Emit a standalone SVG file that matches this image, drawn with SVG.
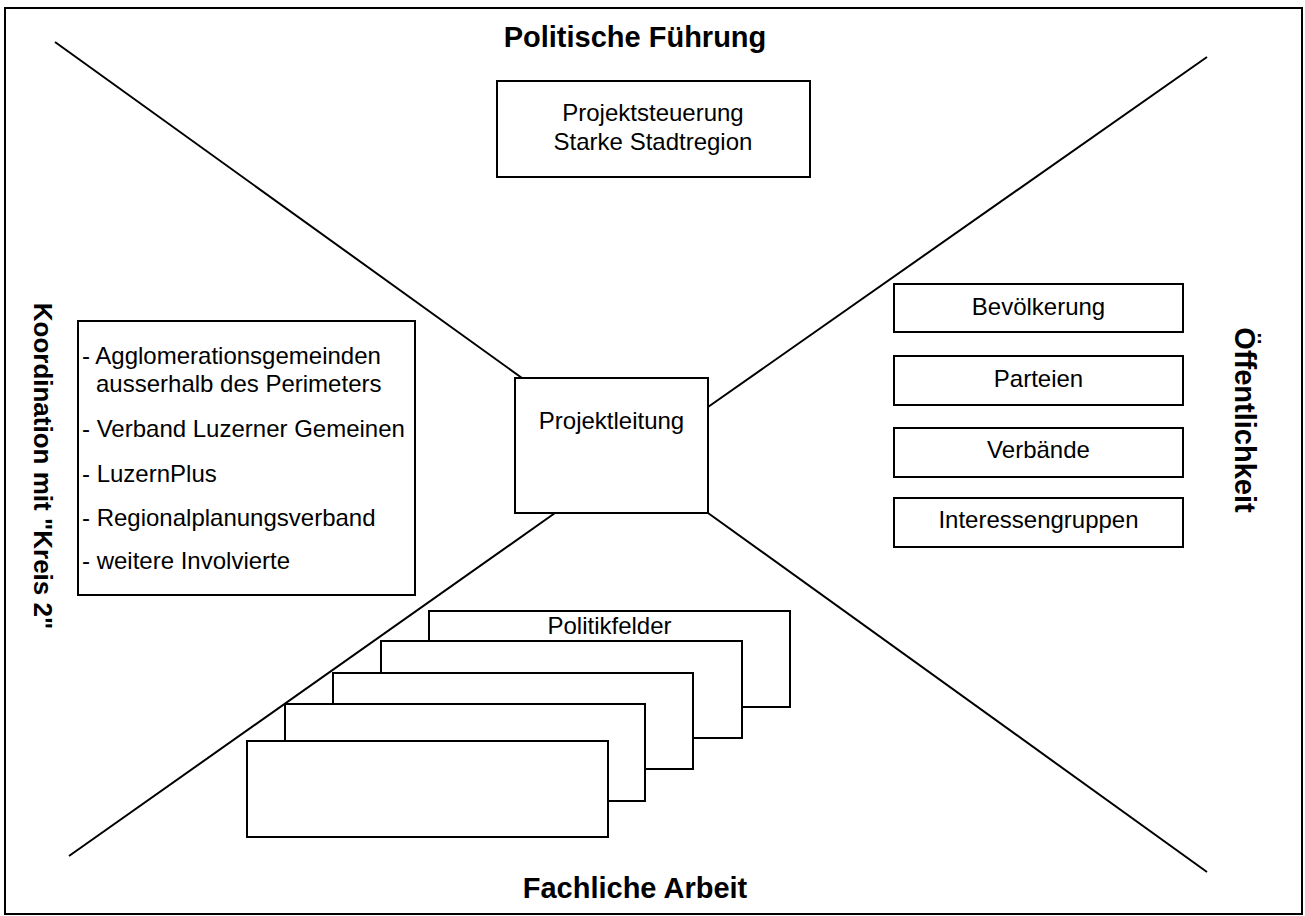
<svg xmlns="http://www.w3.org/2000/svg" width="1305" height="916" viewBox="0 0 1305 916">
<style>
.box{fill:#fff;stroke:#000;stroke-width:2}
.ln{stroke:#000;stroke-width:2;fill:none}
.t{font-family:"Liberation Sans",Arial,sans-serif;font-size:24px;fill:#000}
.c{text-anchor:middle}
.b{font-family:"Liberation Sans",Arial,sans-serif;font-size:29px;font-weight:bold;fill:#000;text-anchor:middle}
</style>
<rect x="0" y="0" width="1305" height="916" fill="#fff"/>
<rect id="frame" x="5" y="8" width="1297" height="906" fill="none" stroke="#000" stroke-width="2"/>
<g id="connectors">
<line class="ln" x1="55" y1="42" x2="522" y2="378"/>
<line class="ln" x1="1207" y1="57" x2="708" y2="407"/>
<line class="ln" x1="69" y1="856" x2="555" y2="513"/>
<line class="ln" x1="708" y1="513" x2="1207" y2="872"/>
</g>
<g id="title-top"><text class="b" x="635" y="47">Politische Führung</text></g>
<g id="title-bottom"><text class="b" x="635" y="898">Fachliche Arbeit</text></g>
<g id="title-right"><text class="b" transform="translate(1235,420) rotate(90)">Öffentlichkeit</text></g>
<g id="title-left"><text class="b" style="font-size:26px" transform="translate(34,466) rotate(90)">Koordination mit "Kreis 2"</text></g>
<g id="projektsteuerung">
<rect class="box" x="497" y="81" width="313" height="96"/>
<text class="t c" x="653" y="121">Projektsteuerung</text>
<text class="t c" x="653" y="150">Starke Stadtregion</text>
</g>
<g id="projektleitung">
<rect class="box" x="515" y="378" width="193" height="135"/>
<text class="t c" x="611.5" y="429">Projektleitung</text>
</g>
<g id="kreis2">
<rect class="box" x="78" y="321" width="337" height="274"/>
<text class="t" x="82" y="364">- Agglomerationsgemeinden</text>
<text class="t" x="96" y="392">ausserhalb des Perimeters</text>
<text class="t" x="82" y="437">- Verband Luzerner Gemeinen</text>
<text class="t" x="82" y="482">- LuzernPlus</text>
<text class="t" x="82" y="526">- Regionalplanungsverband</text>
<text class="t" x="82" y="569">- weitere Involvierte</text>
</g>
<g id="bevoelkerung"><rect class="box" x="894" y="284" width="289" height="48"/><text class="t c" x="1038.5" y="315">Bevölkerung</text></g>
<g id="parteien"><rect class="box" x="894" y="356" width="289" height="49"/><text class="t c" x="1038.5" y="387">Parteien</text></g>
<g id="verbaende"><rect class="box" x="894" y="428" width="289" height="49"/><text class="t c" x="1038.5" y="458">Verbände</text></g>
<g id="interessengruppen"><rect class="box" x="894" y="498" width="289" height="49"/><text class="t c" x="1038.5" y="528">Interessengruppen</text></g>
<g id="politikfelder">
<rect class="box" x="429" y="611" width="361" height="96"/>
<text class="t c" x="609.5" y="634">Politikfelder</text>
<rect class="box" x="381" y="641" width="361" height="97"/>
<rect class="box" x="333" y="673" width="360" height="96"/>
<rect class="box" x="285" y="704" width="360" height="97"/>
<rect class="box" x="247" y="741" width="361" height="96"/>
</g>
</svg>
